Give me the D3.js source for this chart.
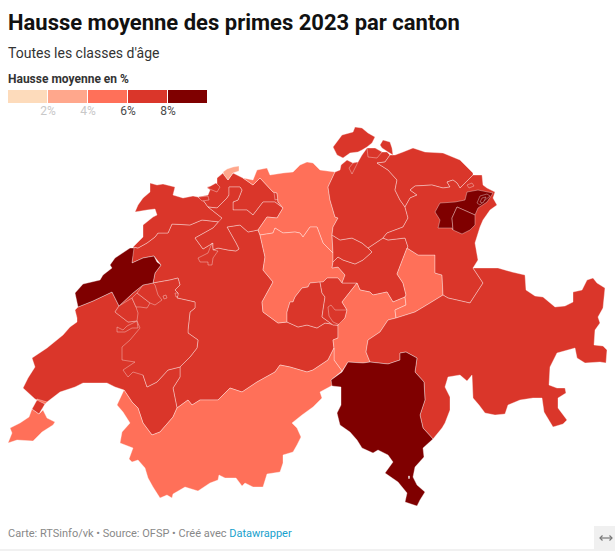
<!DOCTYPE html>
<html><head><meta charset="utf-8">
<script src="https://cdn.jsdelivr.net/npm/d3@7"></script>
<style>html,body{margin:0;padding:0;background:#fff}svg{display:block}text{font-family:Roboto,sans-serif}</style>
</head><body><div id="chart"></div>
<script>
const titleText="Hausse moyenne des primes 2023 par canton";
const subtitleText="Toutes les classes d'âge";
const legendTitle="Hausse moyenne en %";
const legendThresholds=[2,4,6,8];
const legendColors=["#fddbbb","#ffa78c","#ff7059","#da362a","#7f0000"];
const legendDomain=[0,2,4,6,8,10];
// estimated class value of each canton, in %
const values={BE:7,VD:7,JU:7,SO:7,BL:7,BS:3,FR:7,NE:8.5,GE:5,VS:5,AG:5,LU:5,UR:5,GL:5,OW:7,NW:7,SZ:7,ZG:7,ZH:7,SH:7,TG:7,SG:7,GR:7,TI:8.5,AR:8.5,AI:8.5};
// canton outlines, in map units
const BE=[[133,247],[132,263],[143,258],[154,256],[161,265],[155,273],[153,283],[170,280],[178,278],[180,285],[175,290],[178,293],[177,298],[195,302],[195,308],[190,312],[188,330],[188,333],[198,340],[197,348],[190,357],[180,367],[180,377],[173,388],[177,408],[188,400],[192,405],[200,400],[218,400],[230,388],[242,392],[257,382],[275,372],[280,365],[290,367],[307,372],[313,370],[328,360],[334,348],[333,340],[338,338],[338,325],[325,323],[317,328],[307,325],[298,327],[287,322],[278,323],[263,312],[262,302],[273,282],[263,270],[265,257],[260,235],[258,230],[248,232],[240,225],[227,227],[236,243],[239,249],[236,251],[228,250],[218,248],[213,250],[213,243],[203,249],[195,238],[213,228],[222,218],[220,222],[202,220],[190,225],[172,224],[168,233],[158,233],[155,237],[147,243],[138,248]];
const VD=[[78,307],[93,301],[112,292],[119,306],[150,320],[150,360],[143,375],[147,387],[157,382],[168,370],[180,367],[180,377],[173,388],[177,408],[173,417],[160,432],[152,435],[143,423],[138,408],[132,402],[124,390],[115,387],[107,383],[83,383],[75,387],[60,392],[47,402],[45,404],[37,400],[35,399],[23,388],[28,378],[35,367],[32,358],[47,348],[63,335],[70,327],[77,322],[77,318],[75,310]];
const VDc=[[37,400],[45,404],[39,414],[32,409]];
const FR=[[119,306],[133,293],[143,285],[153,283],[170,280],[178,278],[180,285],[175,290],[178,293],[177,298],[195,302],[195,308],[190,312],[188,330],[188,333],[198,340],[197,348],[190,357],[180,367],[168,370],[157,382],[147,387],[143,375],[133,372],[128,377],[123,370],[135,362],[122,360],[122,347],[130,340],[140,328],[137,321],[128,322],[115,312]];
const VDa=[[119,306],[115,312],[128,322],[137,321],[138,313],[136,307],[132,298]];
const VDb=[[132,298],[137,293],[150,303],[147,308],[140,307],[136,307]];
const FRb=[[137,293],[143,285],[153,283],[155,285],[158,295],[162,300],[155,305],[150,303]];
const VDd=[[133,323],[127,326],[123,330],[117,327],[117,332],[125,332],[132,328],[138,328],[137,321]];
const FRc=[[163,296],[166,295],[167,298],[164,299]];
const FRd=[[175,293],[178,293],[178,296],[176,297]];
const NE=[[83,284],[75,293],[78,307],[93,301],[112,292],[119,306],[133,293],[143,285],[153,283],[155,273],[161,265],[157,262],[154,256],[143,258],[132,263],[134,248],[130,248],[115,258],[110,265],[112,268],[103,275],[100,280]];
const JU=[[133,247],[143,237],[143,225],[153,217],[157,215],[155,209],[147,210],[135,212],[138,205],[143,198],[150,192],[150,183],[157,185],[163,184],[175,187],[173,195],[183,198],[193,196],[198,197],[203,200],[208,207],[222,218],[220,222],[202,220],[190,225],[172,224],[168,233],[158,233],[155,237],[147,243],[138,248]];
const BL=[[198,197],[208,195],[210,190],[207,187],[217,185],[217,178],[223,173],[228,180],[233,173],[243,178],[253,185],[260,178],[273,192],[277,193],[278,202],[283,208],[275,202],[263,202],[253,215],[247,210],[233,210],[233,202],[238,200],[242,190],[240,187],[229,187],[229,195],[227,198],[217,208],[208,207],[203,200]];
const SO=[[222,218],[208,207],[217,208],[227,198],[229,195],[229,187],[240,187],[242,190],[238,200],[233,202],[233,210],[247,210],[253,215],[263,202],[275,202],[283,208],[277,218],[267,217],[258,230],[248,232],[240,225],[227,227],[236,243],[239,249],[236,251],[228,250],[218,248],[213,250],[213,243],[203,249],[195,238],[213,228]];
const SOb=[[198,258],[200,262],[208,262],[208,265],[212,265],[213,258],[218,251],[213,250],[212,243],[208,253]];
const SOc=[[198,197],[208,196],[209,200],[202,201]];
const SOd=[[207,188],[217,192],[220,187],[216,183]];
const SOe=[[274,192],[277,193],[278,199],[275,200]];
const BS=[[223,172],[227,169],[233,167],[239,166],[239,171],[233,173],[228,180],[224,175]];
const AG=[[243,178],[253,180],[257,170],[267,168],[270,175],[283,173],[293,172],[300,165],[307,162],[313,163],[320,170],[335,172],[328,187],[330,200],[335,217],[338,218],[333,227],[332,235],[333,253],[323,243],[317,227],[310,227],[303,237],[300,233],[295,232],[283,233],[275,228],[273,233],[260,235],[258,230],[267,217],[277,218],[283,208],[278,202],[277,193],[273,192],[260,178],[253,185]];
const LU=[[260,235],[273,233],[275,228],[283,233],[295,232],[300,233],[303,237],[310,227],[317,227],[323,243],[333,253],[333,262],[332,268],[338,267],[345,275],[342,283],[338,278],[332,278],[327,278],[323,282],[310,283],[308,287],[302,288],[295,297],[293,302],[290,302],[287,312],[287,322],[278,323],[263,312],[262,302],[273,282],[263,270],[265,257]];
const OW=[[287,322],[287,312],[290,302],[293,302],[295,297],[302,288],[308,287],[310,283],[320,282],[322,293],[325,297],[323,310],[322,317],[333,325],[338,325],[325,323],[317,328],[307,325],[298,327]];
const NW=[[320,282],[323,282],[327,278],[332,278],[338,278],[342,283],[353,283],[357,283],[342,302],[347,310],[345,318],[338,325],[333,325],[322,317],[323,310],[325,297],[322,293]];
const OWb=[[328,307],[331,305],[335,310],[347,310],[345,318],[340,325],[333,322],[329,316]];
const UR=[[342,302],[347,310],[345,318],[338,325],[338,338],[333,340],[334,348],[334,360],[342,371],[348,362],[363,363],[370,362],[366,352],[368,340],[380,332],[388,320],[396,318],[395,310],[406,305],[405,297],[393,302],[387,292],[373,295],[370,292],[360,290],[357,283]];
const SZ=[[333,262],[332,268],[338,267],[345,275],[342,283],[353,283],[357,283],[360,290],[370,292],[373,295],[387,292],[393,302],[405,297],[406,295],[403,283],[397,274],[407,248],[408,247],[405,238],[388,240],[383,238],[368,248],[372,252],[363,260],[355,264],[343,260],[338,257]];
const ZG=[[332,235],[340,240],[352,238],[362,243],[368,248],[372,252],[363,260],[355,264],[343,260],[338,257],[333,262],[333,253]];
const GL=[[407,248],[418,255],[435,255],[435,273],[442,275],[443,295],[430,303],[415,312],[396,318],[395,310],[406,305],[405,297],[406,295],[403,283],[397,274]];
const ZH=[[335,172],[340,170],[341,165],[347,160],[353,163],[358,162],[362,155],[367,148],[375,148],[382,152],[387,152],[390,155],[385,162],[377,163],[388,170],[397,180],[395,190],[400,200],[405,207],[408,218],[403,227],[387,233],[383,238],[368,248],[362,243],[352,238],[340,240],[332,235],[333,227],[338,218],[335,217],[330,200],[328,187]];
const ZHb=[[367,148],[368,157],[377,158],[382,152],[375,148]];
const ZHc=[[349,168],[352,174],[356,166],[358,162],[353,163]];
const TG=[[390,155],[395,155],[403,152],[413,148],[425,152],[443,153],[460,160],[473,173],[473,175],[460,188],[457,183],[453,180],[447,182],[450,187],[443,188],[432,185],[415,186],[410,190],[417,195],[410,198],[405,207],[400,200],[395,190],[397,180],[388,170],[377,163],[385,162]];
const SG=[[405,207],[410,198],[417,195],[410,190],[415,186],[432,185],[443,188],[450,187],[447,182],[453,180],[457,183],[460,188],[473,175],[482,175],[483,185],[487,188],[495,192],[493,198],[497,205],[490,210],[483,220],[480,227],[475,243],[478,260],[473,268],[483,283],[470,303],[448,298],[443,295],[442,275],[435,273],[435,255],[418,255],[407,248],[408,247],[405,238],[388,240],[383,238],[387,233],[403,227],[408,218]];
const SGb=[[467,185],[472,183],[474,186],[469,188]];
const SH=[[333,147],[342,135],[353,132],[355,127],[362,128],[368,133],[375,137],[372,143],[367,147],[362,150],[358,152],[350,153],[343,158],[337,155]];
const SHb=[[380,145],[383,140],[390,142],[392,148],[393,155],[388,152],[382,148]];
const AR=[[435,212],[440,203],[455,202],[465,200],[467,192],[478,190],[493,193],[487,202],[478,208],[475,215],[457,207],[452,218],[453,230],[452,228],[438,228],[440,220]];
const AI=[[457,207],[475,215],[475,225],[470,230],[462,234],[453,230],[452,218]];
const AIb=[[480,196],[487,194],[490,196],[484,201],[480,205],[477,203]];
const AIc=[[482,198],[486,197],[483,203],[480,202]];
const GE=[[39,414],[32,409],[29,417],[20,423],[10,428],[12,433],[8,443],[17,440],[33,441],[42,432],[53,425],[55,422],[47,418],[43,410]];
const GEb=[[37,399],[47,402],[45,404],[37,401]];
const VS=[[124,390],[132,402],[138,408],[143,423],[152,435],[160,432],[173,417],[177,408],[188,400],[192,405],[200,400],[218,400],[230,388],[242,392],[257,382],[275,372],[280,365],[290,367],[307,372],[313,370],[328,360],[334,348],[334,360],[342,371],[331,380],[333,385],[320,392],[322,398],[313,407],[302,415],[292,423],[297,428],[301,437],[297,445],[293,452],[283,455],[283,463],[280,472],[267,474],[263,487],[253,487],[245,483],[242,486],[236,478],[225,478],[219,475],[218,480],[210,483],[198,491],[185,487],[173,494],[172,498],[167,495],[160,498],[153,487],[148,478],[145,468],[138,460],[132,462],[129,459],[133,448],[120,443],[122,432],[130,423],[123,412],[117,405]];
const TI=[[331,380],[342,372],[348,362],[363,363],[370,362],[388,364],[400,360],[400,353],[406,352],[417,358],[415,372],[424,382],[425,400],[420,415],[423,428],[433,439],[423,448],[424,457],[415,467],[413,477],[417,485],[425,492],[420,500],[417,506],[405,502],[407,493],[398,482],[385,473],[393,462],[388,455],[378,450],[373,453],[362,448],[357,440],[350,432],[340,425],[337,413],[341,405],[341,387],[332,386]];
const TIhole=[[408.5,476],[409.5,476],[409.5,478.5],[408.5,478.5]];
const GR=[[473,268],[485,268],[498,268],[512,272],[525,275],[526,290],[535,296],[543,297],[555,307],[565,306],[573,302],[573,292],[582,290],[587,280],[593,278],[597,283],[605,288],[603,308],[598,317],[600,323],[595,330],[594,345],[603,346],[607,350],[606,363],[600,362],[585,363],[577,358],[575,348],[557,353],[550,367],[549,385],[557,388],[565,388],[566,393],[558,398],[558,408],[567,420],[563,424],[553,427],[544,412],[542,398],[533,398],[520,400],[508,405],[505,414],[495,415],[485,413],[479,405],[473,398],[472,375],[467,381],[460,375],[448,377],[445,387],[450,397],[450,410],[445,423],[442,428],[433,439],[423,428],[420,415],[425,400],[424,382],[415,372],[417,358],[406,352],[400,353],[400,360],[388,364],[370,362],[366,352],[368,340],[380,332],[388,320],[396,318],[415,312],[430,303],[443,295],[448,298],[470,303],[483,283]];
// draw order, each canton or canton part with the outline it uses
const parts=[["BE",BE],["VD",VD],["FR",FR],["VD",VDa],["VD",VDb],["FR",FRb],["VD",VDd],["FR",FRc],["FR",FRd],["NE",NE],["JU",JU],["BL",BL],["SO",SO],["SO",SOb],["SO",SOc],["SO",SOd],["SO",SOe],["BS",BS],["AG",AG],["LU",LU],["OW",OW],["NW",NW],["OW",OWb],["SZ",SZ],["ZG",ZG],["UR",UR],["GL",GL],["ZH",ZH],["ZH",ZHb],["ZH",ZHc],["TG",TG],["SG",SG],["SG",SGb],["SH",SH],["SH",SHb],["AR",AR],["AI",AI],["AI",AIb],["AI",AIc],["GE",GE],["GE",GEb],["VD",VDc],["VS",VS],["GR",GR],["TI",TI,TIhole]];
const footerParts=["Carte: RTSinfo/vk • Source: OFSP • Créé avec ","Datawrapper"];

const W=615,H=551;
const svg=d3.select("#chart").append("svg").attr("width",W).attr("height",H);
const color=d3.scaleThreshold().domain(legendThresholds).range(legendColors);

svg.append("text").attr("x",8).attr("y",29.5).attr("font-size",22).attr("font-weight",700).attr("fill","#111").text(titleText);
svg.append("text").attr("x",8).attr("y",58).attr("font-size",14).attr("fill","#333").text(subtitleText);
svg.append("text").attr("x",8).attr("y",83).attr("font-size",12).attr("font-weight",700).attr("fill","#333").text(legendTitle);

const lx=d3.scaleLinear().domain([0,10]).range([8,208]);
svg.append("g").selectAll("rect").data(d3.pairs(legendDomain)).join("rect")
  .attr("x",d=>lx(d[0])).attr("y",90).attr("width",d=>lx(d[1])-lx(d[0])-1).attr("height",13)
  .attr("fill",d=>color(d[0]));
svg.append("g").selectAll("text").data(legendThresholds).join("text")
  .attr("x",d=>lx(d)).attr("y",115).attr("text-anchor","middle").attr("font-size",12)
  .attr("fill",d=>d<6?"#c8c8c8":"#4a4a4a").text(d=>d+"%");

const path=d3.geoPath(d3.geoIdentity());
const closed=r=>r.concat([r[0]]);
const features=parts.map(([id,ring,hole])=>({type:"Feature",properties:{id},geometry:{type:"Polygon",coordinates:hole?[closed(ring),closed(hole)]:[closed(ring)]}}));
svg.append("g").selectAll("path").data(features).join("path")
  .attr("d",path).attr("fill",d=>color(values[d.properties.id])).attr("fill-rule","evenodd")
  .attr("stroke","#fff").attr("stroke-opacity",0.5).attr("stroke-width",0.7).attr("stroke-linejoin","round");

const ft=svg.append("text").attr("x",8).attr("y",537).attr("font-size",11).attr("fill","#888");
ft.append("tspan").text(footerParts[0]);
ft.append("tspan").attr("fill","#18a1cd").text(footerParts[1]);

svg.append("line").attr("x1",0).attr("x2",W).attr("y1",550).attr("y2",550).attr("stroke","#e3e3e3");
svg.append("rect").attr("x",594).attr("y",526).attr("width",21).attr("height",24).attr("fill","#f0f0f0");
const ic=svg.append("g").attr("fill","none").attr("stroke","#777").attr("stroke-width",1.2);
ic.append("path").attr("d",d3.line()([[600,538],[612,538]]));
ic.append("path").attr("d",d3.line()([[602.5,535.5],[600,538],[602.5,540.5]]));
ic.append("path").attr("d",d3.line()([[609.5,535.5],[612,538],[609.5,540.5]]));
</script></body></html>
